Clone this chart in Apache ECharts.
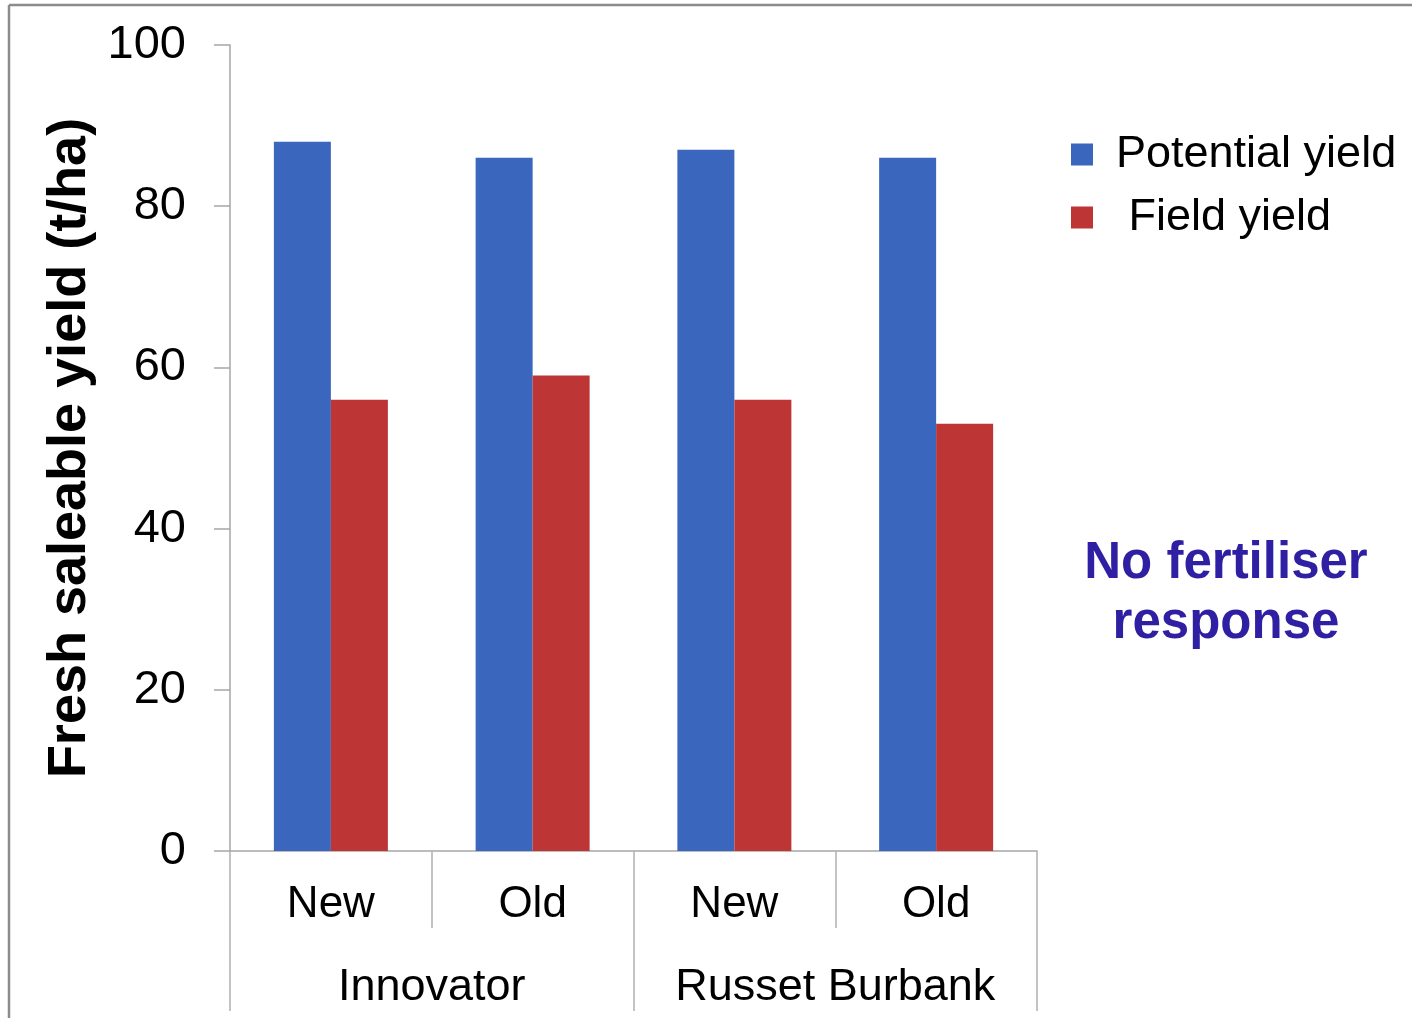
<!DOCTYPE html>
<html>
<head>
<meta charset="utf-8">
<script src="https://cdn.jsdelivr.net/npm/echarts@6/dist/echarts.min.js"></script>
<style>
  html, body { margin: 0; padding: 0; background: #fff; }
  #chart { width: 1412px; height: 1018px; }
</style>
</head>
<body>
<div id="chart"></div>
<script>
// data
const categories = ['New', 'Old', 'New', 'Old']
const varieties = ['Innovator', 'Russet Burbank']
const potentialYield = [88, 86, 87, 86]
const fieldYield = [56, 59, 56, 53]
const yTicks = { min: 0, max: 100, interval: 20 }

const font = '"Liberation Sans", Arial, sans-serif'
const chart = echarts.init(document.getElementById('chart'))

const option = {
  backgroundColor: '#fff',
  animation: false,
  grid: { left: 230, right: 375, top: 45, bottom: 167 },
  legend: {
    orient: 'vertical',
    left: 1066,
    top: 127,
    itemWidth: 22,
    itemHeight: 22,
    itemGap: 18,
    icon: 'rect',
    textStyle: { fontFamily: font, fontSize: 45, lineHeight: 44, color: '#000', padding: [0, 0, 0, 18] },
    formatter: name => (name === 'Field yield' ? ' ' + name : name)
  },
  xAxis: [
    {
      type: 'category',
      data: categories,
      position: 'bottom',
      axisLine: { lineStyle: { color: '#a6a6a6', width: 1.5 } },
      axisTick: { show: true, interval: 0, alignWithLabel: false, length: 77, lineStyle: { color: '#b0b0b0', width: 1.5 } },
      axisLabel: { interval: 0, margin: 32, fontFamily: font, fontSize: 44, color: '#000' }
    },
    {
      type: 'category',
      data: varieties,
      position: 'bottom',
      axisLine: { show: false },
      axisTick: { show: true, interval: 0, alignWithLabel: false, length: 160, lineStyle: { color: '#b0b0b0', width: 1.5 } },
      axisLabel: { interval: 0, hideOverlap: false, margin: 114, fontFamily: font, fontSize: 45, color: '#000' }
    }
  ],
  yAxis: {
    type: 'value',
    min: yTicks.min,
    max: yTicks.max,
    interval: yTicks.interval,
    name: 'Fresh saleable yield (t/ha)',
    nameLocation: 'middle',
    nameGap: 129,
    nameTextStyle: { fontFamily: font, fontSize: 54, fontWeight: 'bold', color: '#000' },
    axisLine: { show: true, lineStyle: { color: '#a6a6a6', width: 1.5 } },
    axisTick: { show: true, length: 16, lineStyle: { color: '#a6a6a6', width: 1.5 } },
    splitLine: { show: false },
    axisLabel: { margin: 44, fontFamily: font, fontSize: 47, color: '#000' }
  },
  series: [
    {
      name: 'Potential yield',
      type: 'bar',
      barWidth: 57,
      barGap: 0,
      itemStyle: { color: '#3a67bd' },
      data: potentialYield
    },
    {
      name: 'Field yield',
      type: 'bar',
      barWidth: 57,
      barGap: 0,
      itemStyle: { color: '#bd3535' },
      data: fieldYield
    }
  ],
  graphic: [
    { type: 'line', shape: { x1: 9, y1: 5, x2: 1412, y2: 5 }, style: { stroke: '#8c8c8c', lineWidth: 2.5 } },
    { type: 'line', shape: { x1: 9, y1: 5, x2: 9, y2: 1018 }, style: { stroke: '#8c8c8c', lineWidth: 2.5 } },
    {
      type: 'text',
      x: 1226,
      y: 534,
      style: {
        text: 'No fertiliser\nresponse',
        fontFamily: font,
        fontSize: 51,
        fontWeight: 'bold',
        lineHeight: 60,
        fill: '#2e1fa3',
        align: 'center',
        verticalAlign: 'top'
      }
    }
  ]
}

chart.setOption(option)
</script>
</body>
</html>
